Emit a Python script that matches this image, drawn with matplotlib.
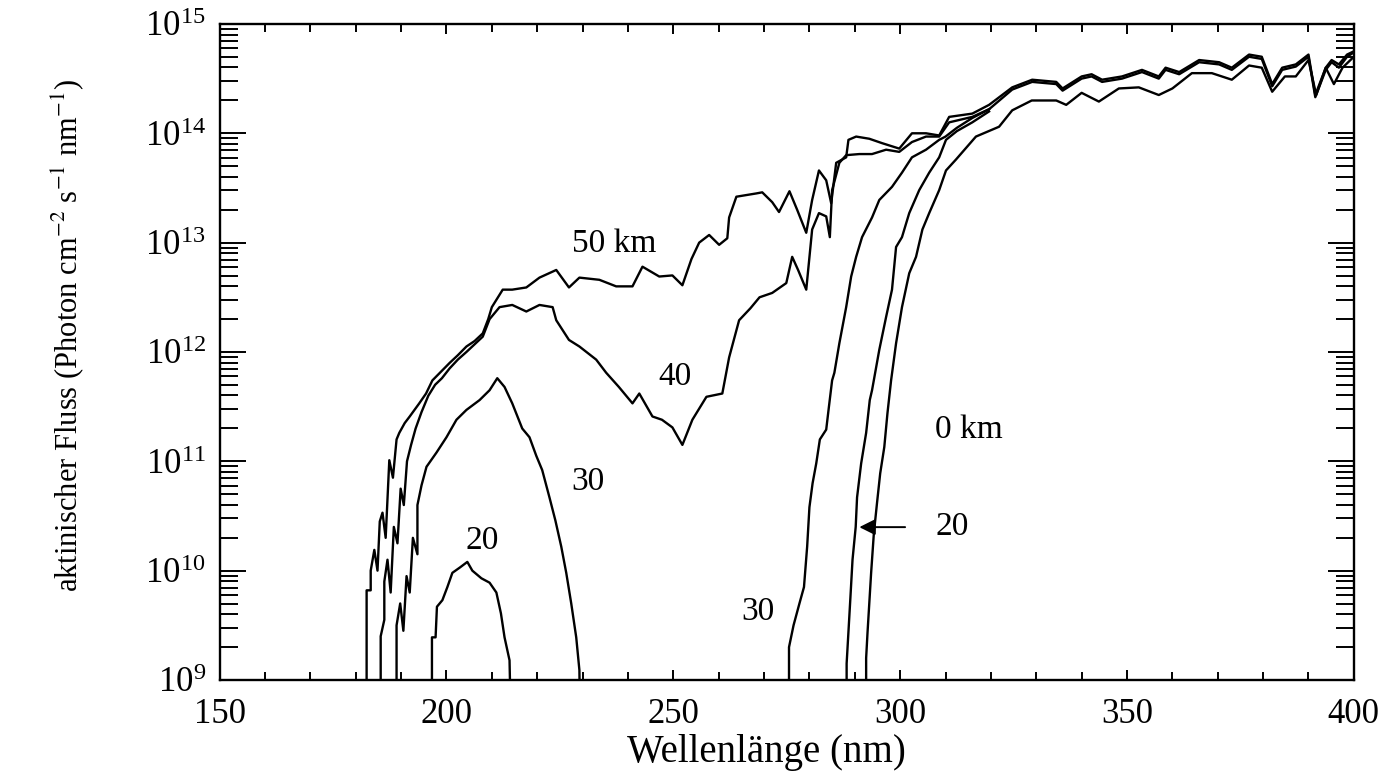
import matplotlib
matplotlib.use("Agg")
import matplotlib.pyplot as plt
import numpy as np
from matplotlib.ticker import MultipleLocator, LogLocator, NullFormatter, LogFormatterMathtext

plt.rcParams['font.family'] = ['Liberation Serif', 'DejaVu Serif']
plt.rcParams['mathtext.fontset'] = 'stix'

# actinic flux, stored as log10(photon cm-2 s-1 nm-1); values below 9 run off the axis
wl_50 = [182.4, 182.4, 183.3, 183.3, 184.1, 184.8, 185.3, 185.9, 186.6, 187.4, 188.2, 189.0,
         189.6, 190.8, 191.9, 194.0, 195.5, 196.9, 198.8, 200.7, 202.5, 204.4, 206.2, 208.0,
         209.2, 210.0, 212.4, 214.5, 217.6, 220.5, 224.2, 227.0, 229.3, 233.7, 237.4, 241.0,
         243.2, 246.9, 249.8, 252.0, 254.0, 255.7, 257.9, 260.1, 261.9, 262.3, 263.9, 268.3,
         269.6, 271.8, 273.3, 275.6, 277.3, 279.3, 280.6, 282.1, 283.7, 284.8, 285.9, 288.1,
         288.6, 290.3, 293.2, 296.0, 299.8, 302.6, 305.7, 308.6, 310.8, 315.9, 319.6, 324.7,
         329.1, 334.4, 335.8, 340.0, 342.2, 344.5, 348.9, 353.3, 357.0, 358.5, 361.5, 365.9,
         370.3, 373.1, 376.9, 379.7, 382.0, 384.2, 387.2, 390.0, 391.5, 393.8, 395.1, 396.7,
         398.5, 400.0]
lf_50 = [8.0, 9.82, 9.82, 10.0, 10.19, 10.0, 10.45, 10.53, 10.3, 11.01, 10.85, 11.2,
         11.26, 11.35, 11.41, 11.53, 11.62, 11.74, 11.82, 11.9, 11.97, 12.05, 12.1, 12.17,
         12.3, 12.41, 12.57, 12.57, 12.59, 12.68, 12.75, 12.59, 12.68, 12.66, 12.6, 12.6,
         12.78, 12.69, 12.7, 12.61, 12.85, 13.0, 13.07, 12.98, 13.04, 13.23, 13.42, 13.45,
         13.46, 13.37, 13.28, 13.47, 13.3, 13.09, 13.39, 13.66, 13.57, 13.36, 13.73, 13.78,
         13.94, 13.97, 13.95, 13.91, 13.86, 14.0, 14.0, 13.98, 14.15, 14.18, 14.26, 14.42,
         14.49, 14.47, 14.41, 14.52, 14.54, 14.49, 14.52, 14.58, 14.52, 14.6, 14.56, 14.67,
         14.65, 14.6, 14.72, 14.7, 14.45, 14.6, 14.63, 14.72, 14.35, 14.6, 14.67, 14.63,
         14.72, 14.75]

wl_40 = [185.5, 185.5, 186.3, 186.3, 187.0, 187.7, 188.4, 189.2, 189.9, 190.6, 191.3, 192.2,
         193.2, 194.5, 196.0, 197.5, 199.0, 200.7, 202.5, 204.4, 206.2, 208.0, 209.5, 211.7,
         214.5, 217.6, 220.5, 223.4, 224.2, 227.0, 229.3, 233.0, 235.2, 238.0, 241.0, 242.5,
         245.4, 247.5, 249.8, 252.0, 254.2, 257.3, 260.8, 262.3, 264.5, 267.0, 269.0, 271.8,
         274.9, 276.2, 277.5, 279.3, 280.6, 282.1, 283.7, 284.5, 285.0, 286.6, 288.1, 291.0,
         293.8, 296.9, 299.8, 302.6, 305.7, 308.6, 310.8, 315.9, 319.6, 324.7, 329.1, 334.4,
         335.8, 340.0, 342.2, 344.5, 348.9, 353.3, 357.0, 358.5, 361.5, 365.9, 370.3, 373.1,
         376.9, 379.7, 382.0, 384.2, 387.2, 390.0, 391.5, 393.8, 395.1, 396.7, 398.5, 400.0]
lf_40 = [8.0, 9.4, 9.55, 9.9, 10.1, 9.8, 10.4, 10.25, 10.75, 10.6, 11.0, 11.15,
         11.3, 11.45, 11.6, 11.7, 11.76, 11.85, 11.93, 12.0, 12.07, 12.14, 12.3, 12.41,
         12.43, 12.37, 12.43, 12.41, 12.29, 12.11, 12.05, 11.93, 11.81, 11.68, 11.53, 11.62,
         11.41, 11.38, 11.31, 11.15, 11.38, 11.59, 11.62, 11.95, 12.29, 12.4, 12.5, 12.54,
         12.63, 12.87, 12.75, 12.57, 13.12, 13.27, 13.24, 13.05, 13.48, 13.73, 13.8, 13.81,
         13.81, 13.85, 13.83, 13.92, 13.97, 13.97, 14.1, 14.15, 14.22, 14.4, 14.47, 14.45,
         14.39, 14.5, 14.52, 14.47, 14.5, 14.56, 14.5, 14.58, 14.54, 14.65, 14.63, 14.58,
         14.7, 14.68, 14.43, 14.58, 14.61, 14.7, 14.33, 14.58, 14.65, 14.6, 14.7, 14.74]

# 30 km: short-wave window near 210 nm and the long-wave rise
wl_30a = [189.0, 189.0, 189.8, 190.5, 191.2, 191.9, 192.6, 193.6, 193.6, 194.5, 195.6, 197.8,
          200.0, 202.2, 204.4, 207.3, 209.5, 211.2, 212.8, 214.5, 216.7, 218.3, 219.8, 221.1,
          222.7, 224.0, 225.3, 226.4, 227.5, 228.6, 229.3, 229.6]
lf_30a = [8.0, 9.5, 9.7, 9.45, 9.95, 9.8, 10.3, 10.15, 10.6, 10.78, 10.95, 11.08,
          11.22, 11.38, 11.47, 11.56, 11.65, 11.76, 11.68, 11.53, 11.3, 11.22, 11.05, 10.92,
          10.67, 10.46, 10.22, 9.98, 9.7, 9.39, 9.09, 8.0]
wl_30b = [275.5, 275.5, 276.5, 277.8, 278.8, 279.5, 280.0, 280.7, 281.5, 282.3, 283.7, 284.3,
          285.0, 285.5, 286.6, 288.1, 289.2, 290.3, 291.6, 293.8, 295.4, 298.2, 300.4, 302.6,
          305.7, 308.6, 310.0, 312.5, 315.9, 319.6]
lf_30b = [8.0, 9.3, 9.5, 9.7, 9.85, 10.22, 10.58, 10.8, 10.98, 11.2, 11.29, 11.5,
          11.74, 11.81, 12.08, 12.41, 12.69, 12.87, 13.05, 13.23, 13.39, 13.51, 13.64, 13.78,
          13.85, 13.94, 13.97, 14.05, 14.14, 14.22]

# 20 km
wl_20a = [196.8, 196.8, 197.6, 197.9, 199.1, 200.2, 201.3, 203.0, 204.6, 205.7, 207.7, 209.5,
          211.0, 212.0, 212.8, 213.9, 214.5]
lf_20a = [8.0, 9.39, 9.39, 9.67, 9.73, 9.85, 9.98, 10.03, 10.08, 10.0, 9.93, 9.89,
          9.8, 9.61, 9.39, 9.18, 8.0]
wl_20b = [288.2, 288.2, 289.0, 289.5, 290.2, 290.5, 291.4, 292.5, 293.3, 293.8, 295.4, 296.9,
          298.2, 299.1, 300.4, 302.0, 304.2, 306.4, 308.6, 310.1, 312.5, 315.9, 319.6]
lf_20b = [8.0, 9.15, 9.73, 10.1, 10.4, 10.67, 10.98, 11.26, 11.56, 11.65, 12.02, 12.32,
          12.57, 12.96, 13.05, 13.27, 13.48, 13.64, 13.78, 13.94, 14.02, 14.1, 14.2]

# 0 km (ground)
wl_0 = [292.5, 292.5, 292.8, 293.6, 294.2, 294.9, 295.6, 296.5, 297.2, 298.0, 299.1, 300.4,
        302.0, 303.5, 304.9, 306.4, 308.6, 310.1, 312.3, 316.7, 321.8, 324.7, 329.0, 334.4,
        336.6, 340.0, 343.8, 348.2, 352.6, 357.0, 360.0, 364.3, 368.7, 373.1, 376.9, 379.7,
        382.0, 384.8, 387.2, 390.0, 391.7, 393.8, 395.6, 397.5, 400.0]
lf_0 = [8.0, 9.2, 9.43, 9.98, 10.34, 10.62, 10.89, 11.13, 11.44, 11.74, 12.08, 12.41,
        12.72, 12.87, 13.12, 13.27, 13.48, 13.66, 13.76, 13.97, 14.06, 14.21, 14.3, 14.3,
        14.26, 14.37, 14.29, 14.41, 14.42, 14.35, 14.41, 14.55, 14.55, 14.49, 14.62, 14.6,
        14.38, 14.52, 14.52, 14.67, 14.35, 14.6, 14.45, 14.6, 14.7]

curves = [(wl_50, lf_50), (wl_40, lf_40), (wl_30a, lf_30a), (wl_30b, lf_30b),
          (wl_20a, lf_20a), (wl_20b, lf_20b), (wl_0, lf_0)]

fig = plt.figure(figsize=(13.9, 7.75), dpi=100)
ax = fig.add_axes([0.158, 0.1226, 0.816, 0.8465])

for wl, lf in curves:
    ax.plot(wl, 10.0 ** np.array(lf), color='black', lw=1.7)

ax.set_yscale('log')
ax.set_xlim(150, 400)
ax.set_ylim(1e9, 1e15)

ax.xaxis.set_major_locator(MultipleLocator(50))
ax.xaxis.set_minor_locator(MultipleLocator(10))
ax.yaxis.set_major_locator(LogLocator(base=10, numticks=10))
ax.yaxis.set_minor_locator(LogLocator(base=10, subs=np.arange(2, 10), numticks=10))
ax.yaxis.set_major_formatter(LogFormatterMathtext())
ax.yaxis.set_minor_formatter(NullFormatter())

ax.tick_params(which='both', direction='in', top=True, right=True, width=1.4, color='black')
ax.tick_params(axis='x', which='major', length=7, labelsize=25, pad=13)
ax.tick_params(axis='x', which='minor', length=5.5)
ax.tick_params(axis='y', which='major', length=19, labelsize=25, pad=10)
ax.tick_params(axis='y', which='minor', length=13)
for sp in ax.spines.values():
    sp.set_linewidth(1.7)

ax.set_xlabel('Wellenlänge (nm)', fontsize=28)
ax.set_ylabel('aktinischer Fluss (Photon cm$^{-2}$ s$^{-1}$ nm$^{-1}$)', fontsize=22)
ax.xaxis.set_label_coords(0.482, -0.083)
ax.yaxis.set_label_coords(-0.118, 0.526)

lab = dict(fontsize=24, ha='center', va='center')
ax.text(237.0, 9.8e12, '50 km', **lab)
ax.text(250.4, 5.9e11, '40', **lab)
ax.text(231.1, 6.5e10, '30', **lab)
ax.text(207.9, 1.86e10, '20', **lab)
ax.text(268.7, 4.2e9, '30', **lab)
ax.text(315.2, 1.95e11, '0 km', **lab)
ax.annotate('20', xy=(291.0, 2.5e10), xytext=(311.5, 2.5e10), fontsize=24,
            ha='center', va='center',
            arrowprops=dict(arrowstyle='-|>', color='black', lw=1.4, mutation_scale=24,
                            shrinkA=20, shrinkB=0))

fig.savefig('out.png', dpi=100)
